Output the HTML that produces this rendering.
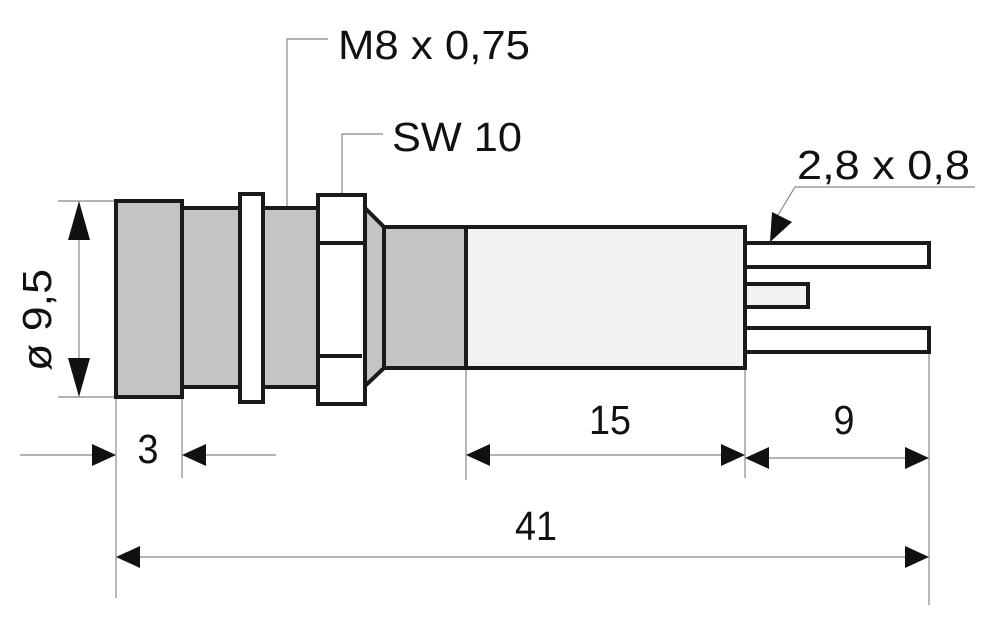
<!DOCTYPE html>
<html><head><meta charset="utf-8"><style>html,body{margin:0;padding:0;background:#fff}svg{display:block}</style></head><body>
<svg width="1000" height="624" viewBox="0 0 1000 624" xmlns="http://www.w3.org/2000/svg" font-family="Liberation Sans, sans-serif">
<g stroke="#888" stroke-width="1.2" fill="none">
<line x1="58" y1="201" x2="116" y2="201"/><line x1="58" y1="397" x2="116" y2="397"/>
<line x1="79" y1="240" x2="79" y2="360"/>
<line x1="20" y1="455" x2="100" y2="455"/><line x1="200" y1="455" x2="276" y2="455"/>
<line x1="116" y1="397" x2="116" y2="598"/><line x1="182" y1="397" x2="182" y2="478"/>
<line x1="466" y1="368" x2="466" y2="480"/><line x1="745" y1="368" x2="745" y2="478"/>
<line x1="929" y1="352" x2="929" y2="605"/>
<line x1="480" y1="455" x2="730" y2="455"/><line x1="760" y1="458" x2="915" y2="458"/>
<line x1="130" y1="557" x2="915" y2="557"/>
<polyline points="287,208 287,39 328,39"/><polyline points="342,195 342,134 383,134"/>
<polyline points="772,225 795,187 975,187"/>
</g>
<g fill="#111">
<polygon points="79,201 68,240 90,240"/><polygon points="79,397 68,358 90,358"/>
<polygon points="116,455 92,444 92,466"/><polygon points="182,455 206,444 206,466"/>
<polygon points="466,455 490,444 490,466"/><polygon points="745,455 721,444 721,466"/>
<polygon points="745,458 769,447 769,469"/><polygon points="929,458 905,447 905,469"/>
<polygon points="116,557 140,546 140,568"/><polygon points="929,557 905,546 905,568"/>
<polygon points="770,242 772,212 792,222"/>
</g>
<g stroke="#1a1a1a" stroke-width="4" stroke-linejoin="miter">
<rect x="466" y="227" width="279" height="141" fill="#f2f2f2"/>
<rect x="384" y="227" width="82" height="141" fill="#c4c4c4"/>
<polygon points="365,208 384,227 384,368 365,386" fill="#c4c4c4"/>
<rect x="182" y="208" width="58" height="179" fill="#c4c4c4"/>
<rect x="263" y="208" width="55" height="179" fill="#c4c4c4"/>
<rect x="116" y="201" width="66" height="196" fill="#c4c4c4"/>
<rect x="240" y="194" width="23" height="208" fill="#fff"/>
<rect x="318" y="195" width="47" height="209" fill="#fff"/>
<line x1="318" y1="243" x2="365" y2="243"/><line x1="318" y1="356" x2="362" y2="356"/>
<rect x="745" y="243" width="184" height="24" fill="#fff"/>
<rect x="745" y="284" width="63" height="23" fill="#f2f2f2"/>
<rect x="745" y="328" width="184" height="24" fill="#fff"/>
</g>
<g fill="#111" font-size="41">
<text x="338" y="59" textLength="192" lengthAdjust="spacingAndGlyphs">M8 x 0,75</text>
<text x="392" y="151" textLength="130" lengthAdjust="spacingAndGlyphs">SW 10</text>
<text x="797" y="179" textLength="173" lengthAdjust="spacingAndGlyphs">2,8 x 0,8</text>
<text x="148" y="463" text-anchor="middle" textLength="21" lengthAdjust="spacingAndGlyphs">3</text>
<text x="610" y="434" text-anchor="middle" textLength="42" lengthAdjust="spacingAndGlyphs">15</text>
<text x="844" y="434" text-anchor="middle" textLength="21" lengthAdjust="spacingAndGlyphs">9</text>
<text x="536" y="540" text-anchor="middle" textLength="42" lengthAdjust="spacingAndGlyphs">41</text>
<text transform="translate(51,320) rotate(-90)" text-anchor="middle" textLength="102" lengthAdjust="spacingAndGlyphs">ø 9,5</text>
</g>
</svg>
</body></html>
